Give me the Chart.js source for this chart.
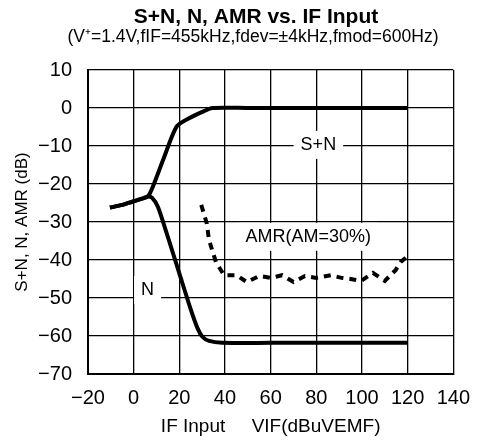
<!DOCTYPE html>
<html>
<head>
<meta charset="utf-8">
<script src="https://cdn.jsdelivr.net/npm/chart.js@4.4.0/dist/chart.umd.min.js"></script>
<style>
  body { margin: 0; background: #fff; }
  canvas { display: block; }
</style>
</head>
<body>
<canvas id="grafico" width="482" height="446"></canvas>
<script>
const titolo = 'S+N, N, AMR vs. IF Input';
const sottotitolo = '(V\u207A=1.4V,fIF=455kHz,fdev=\u00B14kHz,fmod=600Hz)';
const titoloX = 'IF Input     VIF(dBuVEMF)';
const titoloY = 'S+N, N, AMR (dB)';

// S+N
const snX = [-10.4, -5, -0.3, 3, 6.2, 8.4, 13, 18.8, 24.3, 30.1, 34.5, 50, 80, 120];
const snY = [-26.2, -25.5, -24.6, -24, -23.3, -20.7, -13.5, -4.9, -2.7, -1, 0, 0, 0, 0];

// N
const nX = [-10.4, -5, -0.3, 3, 6.2, 8, 10.6, 15, 20, 25, 28, 30.1, 33, 38.8, 60, 120];
const nY = [-26.2, -25.5, -24.6, -24, -23.3, -23.6, -26, -34, -43.5, -53, -58, -60.2, -61.3, -61.8, -61.8, -61.8];

// AMR (AM=30%)
const amrX = [29.6, 32, 33, 36, 39.6, 45, 49.6, 55, 60, 65, 70, 75, 80, 82, 86.5, 91, 95, 99.6, 104.8, 110, 114.8, 117, 119.6];
const amrY = [-25.5, -30.3, -34.7, -40.5, -44, -44, -45.8, -44.2, -44.7, -44, -45.8, -44.2, -44.7, -44.5, -44, -44.7, -45, -45.5, -43.4, -45.5, -42.6, -40.5, -39.2];

// etichette dentro il grafico
const noteTesto = ['S+N', 'N', 'AMR(AM=30%)'];
const noteX = [80.9, 6.1, 76.5];
const noteY = [-9.7, -47.9, -33.9];

const fontBase = "'Liberation Sans', Arial, sans-serif";

function punti(xs, ys) {
    return xs.map((x, i) => ({ x: x, y: ys[i] }));
}

const pluginNote = {
    id: 'note',
    beforeDatasetsDraw(chart) {
        const ctx = chart.ctx;
        const sx = chart.scales.x;
        const sy = chart.scales.y;
        ctx.save();
        ctx.font = '18px ' + fontBase;
        ctx.textAlign = 'center';
        ctx.textBaseline = 'middle';
        noteTesto.forEach((t, i) => {
            const px = sx.getPixelForValue(noteX[i]);
            const py = sy.getPixelForValue(noteY[i]);
            const w = ctx.measureText(t).width;
            ctx.fillStyle = '#fff';
            ctx.fillRect(px - w / 2 - 7, py - 14, w + 14, 28);
            ctx.fillStyle = '#000';
            ctx.fillText(t, px, py);
        });
        ctx.restore();
    },
    afterDraw(chart) {
        const ctx = chart.ctx;
        ctx.save();
        ctx.fillStyle = '#000';
        ctx.textAlign = 'center';
        ctx.textBaseline = 'middle';
        ctx.font = 'bold 21px ' + fontBase;
        ctx.fillText(titolo, 256, 17);
        ctx.font = '17.5px ' + fontBase;
        ctx.fillText(sottotitolo, 253, 37);
        ctx.restore();
    }
};

const ctx = document.getElementById('grafico').getContext('2d');
new Chart(ctx, {
    type: 'line',
    data: {
        datasets: [{
            label: 'S+N',
            data: punti(snX, snY),
            borderColor: '#000',
            borderWidth: 4,
            pointRadius: 0,
            tension: 0.25,
            fill: false
        }, {
            label: 'N',
            data: punti(nX, nY),
            borderColor: '#000',
            borderWidth: 4,
            pointRadius: 0,
            tension: 0.25,
            fill: false
        }, {
            label: 'AMR',
            data: punti(amrX, amrY),
            borderColor: '#000',
            borderWidth: 4,
            borderDash: [7, 6],
            pointRadius: 0,
            tension: 0,
            fill: false
        }]
    },
    options: {
        responsive: false,
        animation: false,
        devicePixelRatio: 1,
        layout: {
            padding: { top: 70, right: 26, bottom: 0, left: 0 }
        },
        scales: {
            x: {
                type: 'linear',
                min: -20,
                max: 140,
                afterFit: s => { s.height = 72; },
                ticks: {
                    stepSize: 20,
                    padding: 12,
                    color: '#000',
                    font: { family: fontBase, size: 20 },
                    callback: v => String(v).replace('-', '\u2212')
                },
                grid: { color: '#000', lineWidth: 1.3, drawTicks: false },
                border: { color: '#000', width: 2 },
                title: {
                    display: true,
                    text: titoloX,
                    color: '#000',
                    font: { family: fontBase, size: 19 },
                    padding: { top: 0, bottom: 8 }
                }
            },
            y: {
                min: -70,
                max: 10,
                afterFit: s => { s.width = 88; },
                ticks: {
                    stepSize: 10,
                    padding: 16,
                    color: '#000',
                    font: { family: fontBase, size: 20 },
                    callback: v => String(v).replace('-', '\u2212')
                },
                grid: { color: '#000', lineWidth: 1.3, drawTicks: false },
                border: { color: '#000', width: 2 },
                title: {
                    display: true,
                    text: titoloY,
                    color: '#000',
                    font: { family: fontBase, size: 17 },
                    padding: { top: 12, bottom: 0 }
                }
            }
        },
        plugins: {
            legend: { display: false },
            tooltip: { enabled: false }
        }
    },
    plugins: [pluginNote]
});
</script>
</body>
</html>
